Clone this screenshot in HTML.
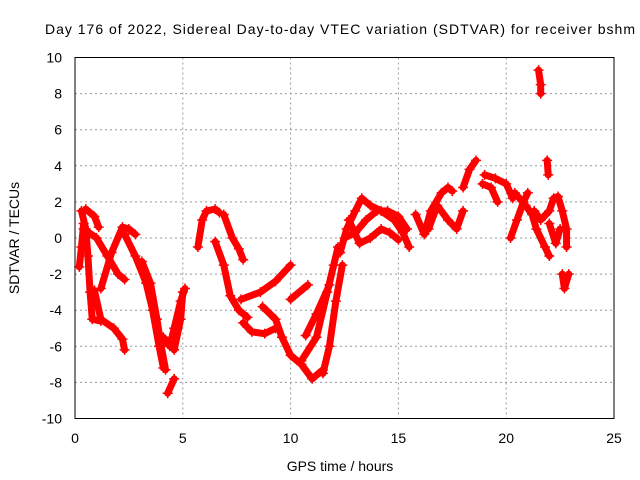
<!DOCTYPE html>
<html><head><meta charset="utf-8"><style>
body{margin:0;background:#fff}
svg{display:block;font-family:"Liberation Sans",sans-serif}
</style></head><body>
<svg id="chart" width="640" height="480">
<rect width="640" height="480" fill="#fff"/>
<text x="340" y="34" text-anchor="middle" font-size="14" textLength="590">Day 176 of 2022, Sidereal Day-to-day VTEC variation (SDTVAR) for receiver bshm</text>
<text transform="translate(19,238) rotate(-90)" text-anchor="middle" font-size="14">SDTVAR / TECUs</text>
<text x="340" y="471" text-anchor="middle" font-size="14">GPS time / hours</text>
<g id="grid"></g><g id="ticks"></g><g id="marks"></g>
<rect x="75" y="57.5" width="539" height="361" fill="none" stroke="#000"/>
</svg>
<script>
const xTicks=[0,5,10,15,20,25];
const yTicks=[-10,-8,-6,-4,-2,0,2,4,6,8,10];
const tracks=[
[[0.3,1.5],[0.5,0.5],[0.6,-1],[0.7,-3],[0.8,-4.5],[1.2,-4.6]],
[[0.2,-1.6],[0.3,-0.5],[0.4,0.8]],
[[0.4,0.5],[1.0,0],[1.5,-1],[2.0,-2],[2.3,-2.3]],
[[0.9,-2.9],[1.2,-4.5],[1.8,-5.0],[2.2,-5.6],[2.3,-6.2]],
[[1.2,-2.8],[1.7,-0.8],[2.2,0.6],[2.5,0.5],[2.8,0.2]],
[[0.5,1.6],[0.9,1.2],[1.1,0.6]],
[[2.3,0.2],[2.8,-1],[3.3,-2.5],[3.6,-4],[3.9,-6],[4.1,-7.2]],
[[3.1,-1.3],[3.5,-2.5],[3.8,-4.5],[4.0,-6],[4.2,-7.3]],
[[4.3,-8.6],[4.6,-7.8]],
[[4.1,-5.5],[4.4,-6],[4.6,-5],[4.9,-3.5],[5.1,-2.8]],
[[4.6,-6.2],[4.9,-4.5],[5.0,-3.0]],
[[5.7,-0.5],[5.9,1],[6.1,1.5],[6.5,1.6],[6.7,1.4]],
[[6.9,1.3],[7.3,0],[7.6,-0.6],[7.8,-1.2]],
[[6.5,-0.2],[6.9,-1.5],[7.2,-3.2],[7.6,-4],[8,-4.4]],
[[7.7,-3.4],[8.6,-3.0],[9.3,-2.4],[10,-1.5]],
[[7.8,-4.7],[8.2,-5.2],[8.8,-5.3],[9.3,-5]],
[[8.7,-3.8],[9.3,-4.5],[9.6,-5.5],[10,-6.5],[10.5,-7],[11,-7.8],[11.5,-7.3]],
[[10.5,-6.8],[11.2,-5.5],[11.7,-3],[12.0,-1.5],[12.2,-0.5]],
[[11.5,-7.5],[11.8,-6],[12.1,-3.5],[12.4,-1.5]],
[[10.0,-3.4],[10.8,-2.6]],
[[10.7,-5.4],[11.2,-4.2],[11.8,-2.6]],
[[12.3,-0.8],[12.6,0.5],[13,1.5],[13.3,2.2],[13.7,1.8],[14.2,1.5],[14.8,1.0],[15.2,0.3],[15.5,-0.5]],
[[12.5,0],[13,0.3],[13.5,1.0],[14,1.5],[14.5,1.5],[15,1.2],[15.4,0.5]],
[[12.7,1],[13.2,-0.3],[13.7,0],[14.2,0.5],[14.6,0.3],[15,-0.1]],
[[15.8,1.3],[16.2,0.2],[16.5,1.5],[17,2.5],[17.3,2.8],[17.5,2.6]],
[[16.4,0.5],[16.8,1.8],[17.3,1.0],[17.7,0.5],[18,1.5]],
[[18.0,2.8],[18.3,3.8],[18.6,4.3]],
[[19.0,3.5],[19.5,3.3],[20.0,3.0],[20.3,2.2]],
[[18.9,3.0],[19.3,2.8],[19.6,2.0]],
[[20.2,0],[20.5,1],[20.8,2.0],[21.0,2.5]],
[[20.4,2.5],[20.9,1.8],[21.2,1.3],[21.4,0.5],[21.8,-0.5],[22.0,-1.0]],
[[21.3,1.5],[21.6,1.0],[22.0,1.5],[22.2,2.2],[22.4,2.3],[22.6,1.5],[22.8,0.5],[22.8,-0.5]],
[[21.5,9.3],[21.6,8.5],[21.6,8.0]],
[[21.9,4.3],[21.95,3.5]],
[[22.0,0.8],[22.3,-0.3],[22.5,0.5]],
[[22.6,-2.0],[22.7,-2.8],[22.9,-2]]
];
const X=t=>75+t*21.56, Y=v=>238-v*18.05;
const NS='http://www.w3.org/2000/svg';
const grid=document.getElementById('grid'),ticks=document.getElementById('ticks'),marks=document.getElementById('marks');
function mk(tag,attrs,parent){const e=document.createElementNS(NS,tag);for(const k in attrs)e.setAttribute(k,attrs[k]);parent.appendChild(e);return e;}
xTicks.forEach(t=>{
 if(t>0&&t<25){const g=mk('line',{x1:X(t),x2:X(t),y1:57.5,y2:418.5,stroke:'#999','stroke-dasharray':'2,3'},grid);
 
 }
 const l=mk('text',{x:X(t),y:443,'text-anchor':'middle','font-size':'14'},ticks);l.textContent=t;
 
 
});
yTicks.forEach(v=>{
 if(v>-10&&v<10){const g=mk('line',{x1:75,x2:614,y1:Y(v),y2:Y(v),stroke:'#999','stroke-dasharray':'2,3'},grid);
 
 }
 const l=mk('text',{x:62,y:Y(v)+5,'text-anchor':'end','font-size':'14'},ticks);l.textContent=v;
 
 
});
tracks.forEach(tr=>{
 const p=mk('polyline',{points:tr.map(d=>X(d[0])+','+Y(d[1])).join(' '),fill:'none',stroke:'#f00','stroke-width':7,'stroke-linejoin':'round','stroke-linecap':'round'},marks);
 
 
 tr.forEach(d=>{
  const m=mk('path',{d:`M${X(d[0])-5},${Y(d[1])}h10M${X(d[0])},${Y(d[1])-5}v10`,stroke:'#f00','stroke-width':1.5},marks);
  
  
 });
});
</script>
</body></html>
